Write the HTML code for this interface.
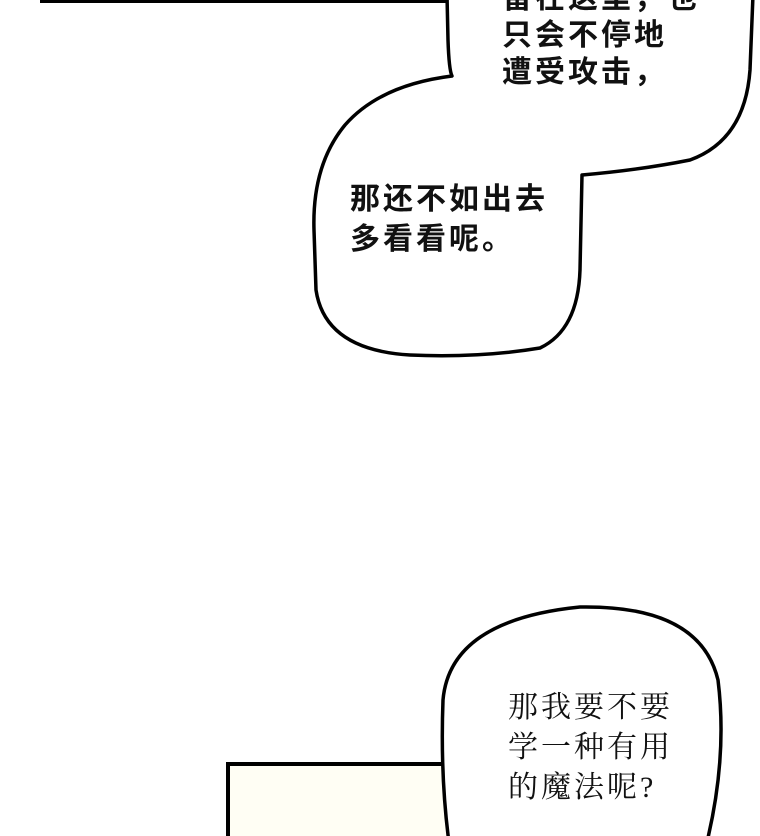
<!DOCTYPE html>
<html><head><meta charset="utf-8"><style>
html,body{margin:0;padding:0;background:#fff;}
body{width:760px;height:836px;position:relative;overflow:hidden;}
.t{position:absolute;font-family:"Liberation Sans","Noto Sans CJK SC",sans-serif;font-size:30px;line-height:37px;color:#111;white-space:nowrap;letter-spacing:3px;font-weight:bold;}
.s{position:absolute;font-family:"Liberation Serif","Noto Serif CJK SC",serif;font-size:30px;line-height:40px;color:#111;white-space:nowrap;letter-spacing:3px;}
</style></head><body>
<svg width="760" height="836" style="position:absolute;left:0;top:0">
<rect x="228" y="764" width="300" height="90" fill="#fffef4" stroke="#000" stroke-width="4"/>
<rect x="40" y="-5" width="408" height="8" fill="#000"/>
<path d="M447,-5 L448,40 Q449,70 452,76 Q380,85 345,125 Q312,165 314,230 L316,290 Q325,350 410,355 Q480,358 540,348 Q578,330 580,270 L582,175 Q640,170 690,160 Q745,140 750,70 L753,-5 Z" fill="#fff" stroke="#000" stroke-width="3.5" stroke-linejoin="round"/>
<path d="M450,850 Q440,780 443,700 Q450,620 580,607 Q700,605 718,680 Q728,760 705,850 Z" fill="#fff" stroke="#000" stroke-width="3.5"/>
</svg>
<div class="t" style="left:502px;top:-20px">留在这里，也<br>只会不停地<br>遭受攻击，</div>
<div class="t" style="left:350px;top:180px;line-height:40px">那还不如出去<br>多看看呢。</div>
<div class="s" style="left:508px;top:688px">那我要不要<br>学一种有用<br>的魔法呢?</div>
</body></html>
